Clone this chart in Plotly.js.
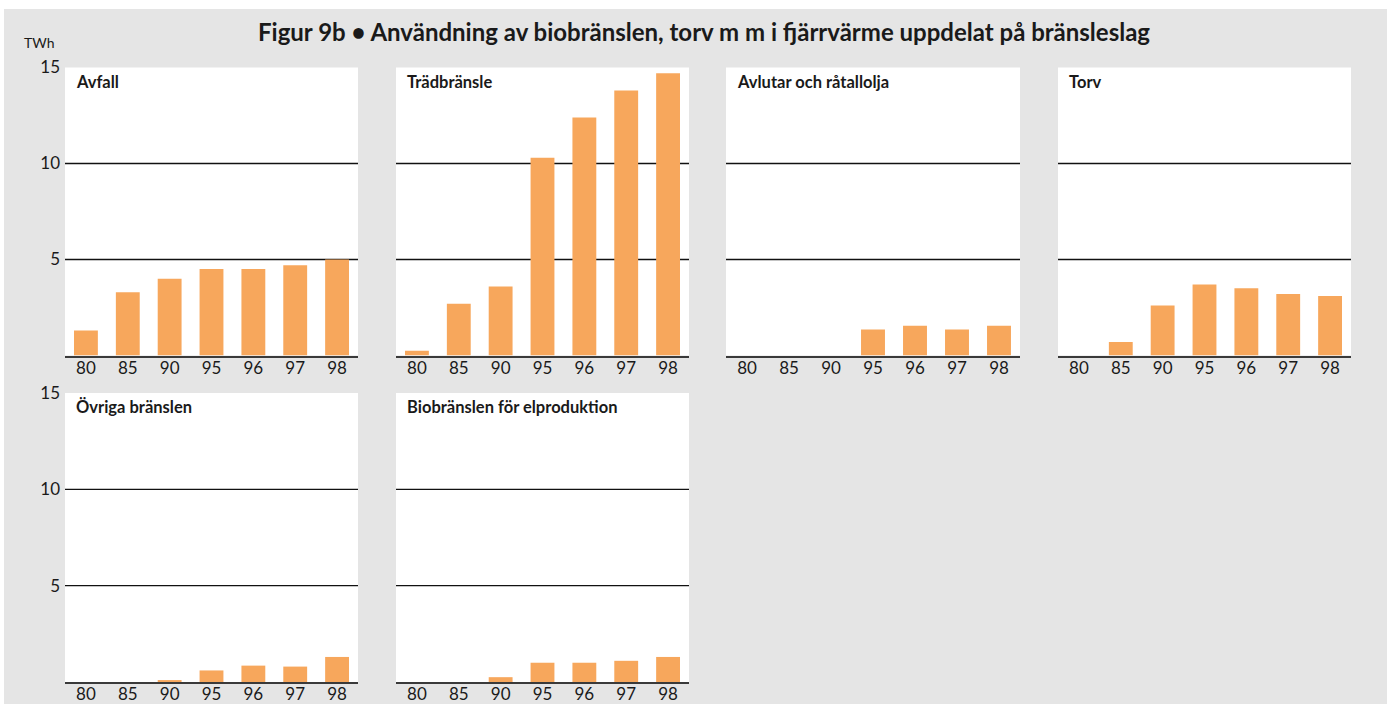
<!DOCTYPE html>
<html>
<head>
<meta charset="utf-8">
<script src="https://cdn.plot.ly/plotly-3.0.1.min.js"></script>
<style>html,body{margin:0;padding:0;background:#fff;}#chart{width:1387px;height:704px;}</style>
</head>
<body>
<div id="chart"></div>
<script>
const years = ['80','85','90','95','96','97','98'];
const panelTitles = ['Avfall','Trädbränsle','Avlutar och råtallolja','Torv','Övriga bränslen','Biobränslen för elproduktion'];
const avfall = [1.3, 3.3, 4.0, 4.5, 4.5, 4.7, 5.0];
const tradbransle = [0.25, 2.7, 3.6, 10.3, 12.4, 13.8, 14.7];
const avlutar = [0, 0, 0, 1.35, 1.55, 1.35, 1.55];
const torv = [0, 0.7, 2.6, 3.7, 3.5, 3.2, 3.1];
const ovriga = [0, 0, 0.1, 0.6, 0.85, 0.8, 1.3];
const bioEl = [0, 0, 0.25, 1.0, 1.0, 1.1, 1.3];
const yTickVals = [5, 10, 15];
const gridVals = [5, 10];

const series = [avfall, tradbransle, avlutar, torv, ovriga, bioEl];
const W = 1387, H = 704;
const colsPx = [[65,358],[396,689],[726,1020],[1058,1351]];
const rowsPx = [[67.5,355.5],[393,682]];
const barColor = '#f7a75c';
const txt = '#1a1a1a';
const fontFam = 'Lato, "Open Sans", sans-serif';

const data = [];
const layout = {
  width: W, height: H,
  margin: {l:0, r:0, t:0, b:0},
  paper_bgcolor: '#e5e5e5',
  plot_bgcolor: '#ffffff',
  showlegend: false,
  bargap: 0.43,
  font: {family: fontFam, color: txt},
  shapes: [
    {type:'rect', xref:'paper', yref:'paper', x0:0, x1:1, y0:1-9/H, y1:1, fillcolor:'#ffffff', line:{width:0}, layer:'below'},
    {type:'rect', xref:'paper', yref:'paper', x0:0, x1:4/W, y0:0, y1:1, fillcolor:'#ffffff', line:{width:0}, layer:'below'}
  ],
  annotations: []
};

layout.annotations.push({
  text: '<b>Figur 9b • Användning av biobränslen, torv m m i fjärrvärme uppdelat på bränsleslag</b>',
  xref:'paper', yref:'paper', x: 704/W, y: 1-32/H, xanchor:'center', yanchor:'middle',
  showarrow:false, font:{size:24, family: fontFam, color: txt}
});
layout.annotations.push({
  text: 'TWh', xref:'paper', yref:'paper', x: 39/W, y: 1-42/H, xanchor:'center', yanchor:'middle',
  showarrow:false, font:{size:14, family: fontFam, color: txt}
});

series.forEach((vals, i) => {
  const n = i + 1;
  const row = i < 4 ? 0 : 1;
  const col = i < 4 ? i : i - 4;
  const xs = colsPx[col], ys = rowsPx[row];
  const xk = n === 1 ? 'xaxis' : 'xaxis' + n;
  const yk = n === 1 ? 'yaxis' : 'yaxis' + n;
  const xr = n === 1 ? 'x' : 'x' + n;
  const yr = n === 1 ? 'y' : 'y' + n;
  data.push({type:'bar', x: years, y: vals, xaxis: xr, yaxis: yr,
             marker:{color: barColor, line:{width:0}}, hoverinfo:'x+y'});
  layout[xk] = {
    domain: [xs[0]/W, xs[1]/W], anchor: yr, type:'category',
    range: [-0.5, 6.5], showgrid:false, zeroline:false,
    showline:true, linecolor:'#3a3a3a', linewidth:2,
    ticks:'', ticklabelstandoff: -4,
    tickfont:{size:17, color: txt, family: fontFam}, fixedrange:true
  };
  layout[yk] = {
    domain: [1 - ys[1]/H, 1 - ys[0]/H], anchor: xr,
    range: [0, 15], showgrid:false, zeroline:false, showline:false,
    tickvals: yTickVals, ticks:'',
    showticklabels: col === 0,
    tickfont:{size:17, color: txt, family: fontFam}, ticklabelstandoff: 4, fixedrange:true
  };
  gridVals.forEach(g => {
    layout.shapes.push({type:'line', xref: xr + ' domain', yref: yr, x0:0, x1:1, y0:g, y1:g,
                        line:{color:'#111', width:1.3}, layer:'below'});
  });
  layout.annotations.push({
    text: '<b>' + panelTitles[i] + '</b>', xref: xr + ' domain', yref: yr + ' domain',
    x: 0, y: 1, xanchor:'left', yanchor:'top', xshift: 9, yshift: -2,
    showarrow:false, font:{size:16.5, family: fontFam, color: txt}
  });
});

Plotly.newPlot('chart', data, layout, {staticPlot:true, displayModeBar:false});
</script>
</body>
</html>
